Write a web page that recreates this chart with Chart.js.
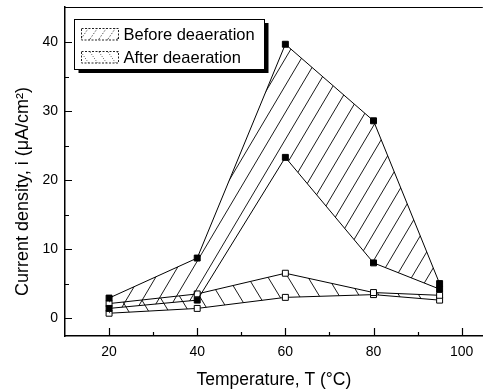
<!DOCTYPE html>
<html>
<head>
<meta charset="utf-8">
<script src="https://cdn.jsdelivr.net/npm/chart.js@4"></script>
<style>
  body { margin: 0; background: #fff; }
  canvas { display: block; }
</style>
</head>
<body>
<canvas id="myChart" width="488" height="392"></canvas>
<script>
// temperatures (x) and current densities (y, uA/cm2)
var temps = [20, 40, 60, 80, 95];
var beforeUpper = [2.9, 8.7, 39.7, 28.6, 5.0];
var beforeLower = [1.4, 2.6, 23.3, 8.0, 4.2];
var afterUpper = [2.1, 3.5, 6.5, 3.7, 3.3];
var afterLower = [0.7, 1.4, 3.0, 3.4, 2.6];
var seriesNames = ['Before deaeration', 'After deaeration'];

var xTickValues = [20, 40, 60, 80, 100];
var xMinorTicks = [30, 50, 70, 90];
var yTickValues = [0, 10, 20, 30, 40];
var yMinorTicks = [5, 15, 25, 35];

var FONT = "'Liberation Sans', Arial, sans-serif";
Chart.defaults.font.family = FONT;
Chart.defaults.color = '#000';

var ctx = document.getElementById('myChart').getContext('2d');

// diagonal hatch pattern, dir 1 = '/', -1 = '\'
function hatch(w, h, dir, lw, dash, color) {
    var c = document.createElement('canvas');
    c.width = w; c.height = h;
    var g = c.getContext('2d');
    g.strokeStyle = color || '#000';
    g.lineWidth = lw;
    if (dash) g.setLineDash(dash);
    g.beginPath();
    [-w, 0, w].forEach(function (ox) {
        if (dir > 0) { g.moveTo(ox, h); g.lineTo(ox + w, 0); }
        else { g.moveTo(ox, 0); g.lineTo(ox + w, h); }
    });
    g.stroke();
    return ctx.createPattern(c, 'repeat');
}

var beforeHatch = hatch(16, 27, 1, 0.9);
var afterHatch = hatch(20, 33, -1, 0.9);
var beforeSample = hatch(9, 13, 1, 0.8, [1.5, 1.5], '#333');
var afterSample = hatch(9, 13, -1, 0.8, [1, 1.5], '#333');

function toPoints(ys) {
    return temps.map(function (t, i) { return { x: t, y: ys[i] }; });
}

function series(ys, filled, fill, bg) {
    return {
        data: toPoints(ys),
        borderColor: '#000',
        borderWidth: 1,
        pointStyle: 'rect',
        pointRadius: 4.2,
        pointBorderWidth: 1,
        pointBorderColor: '#000',
        pointBackgroundColor: filled ? '#000' : '#fff',
        backgroundColor: bg || 'transparent',
        fill: fill,
        tension: 0
    };
}

// inward ticks, top frame and the boxed legend
var framePlugin = {
    id: 'frame',
    afterDraw: function (chart) {
        var c = chart.ctx, a = chart.chartArea;
        var x = chart.scales.x, y = chart.scales.y;
        c.save();
        c.strokeStyle = '#000';
        c.lineWidth = 1.2;
        c.beginPath();
        xTickValues.forEach(function (v) {
            var p = Math.round(x.getPixelForValue(v)) + 0.5;
            c.moveTo(p, a.bottom); c.lineTo(p, a.bottom - 8);
        });
        xMinorTicks.forEach(function (v) {
            var p = Math.round(x.getPixelForValue(v)) + 0.5;
            c.moveTo(p, a.bottom); c.lineTo(p, a.bottom - 4);
        });
        yTickValues.forEach(function (v) {
            var p = Math.round(y.getPixelForValue(v)) + 0.5;
            c.moveTo(a.left, p); c.lineTo(a.left + 7, p);
        });
        yMinorTicks.forEach(function (v) {
            var p = Math.round(y.getPixelForValue(v)) + 0.5;
            c.moveTo(a.left, p); c.lineTo(a.left + 4, p);
        });
        c.stroke();
        c.lineWidth = 1;
        c.beginPath();
        c.moveTo(a.left, a.top + 0.5); c.lineTo(a.right, a.top + 0.5);
        c.stroke();

        // legend box with drop shadow
        var lx = a.left + 9.5, ly = a.top + 12.5, lw = 190, lh = 50;
        c.fillStyle = '#000';
        c.fillRect(lx + 4, ly + 3.5, lw, lh);
        c.fillStyle = '#fff';
        c.fillRect(lx, ly, lw, lh);
        c.strokeRect(lx, ly, lw, lh);

        var samples = [beforeSample, afterSample];
        c.font = '16.5px ' + FONT;
        c.textBaseline = 'alphabetic';
        seriesNames.forEach(function (name, i) {
            var sy = ly + 9 + i * 23;
            c.fillStyle = samples[i];
            c.fillRect(lx + 7, sy, 37, 11.5);
            c.setLineDash([2, 1.5]);
            c.strokeStyle = '#222';
            c.strokeRect(lx + 7, sy, 37, 11.5);
            c.setLineDash([]);
            c.fillStyle = '#000';
            c.fillText(name, lx + 49, sy + 11.5);
        });
        c.restore();
    }
};

var chart = new Chart(ctx, {
    type: 'line',
    data: {
        datasets: [
            series(beforeUpper, true, '+1', beforeHatch),
            series(beforeLower, true, false),
            series(afterUpper, false, '+1', afterHatch),
            series(afterLower, false, false)
        ]
    },
    options: {
        responsive: false,
        animation: false,
        layout: { padding: { top: 7, left: 0, right: 0, bottom: 0 } },
        plugins: {
            legend: { display: false },
            tooltip: { enabled: false }
        },
        scales: {
            x: {
                type: 'linear',
                min: 10,
                max: 104.8,
                afterBuildTicks: function (s) {
                    s.ticks = xTickValues.map(function (v) { return { value: v }; });
                },
                afterFit: function (s) {
                    s.height = 56;
                    s.paddingLeft = 0; s.paddingRight = 0;
                },
                grid: { drawOnChartArea: false, drawTicks: false },
                border: { display: true, color: '#000', width: 1.5 },
                ticks: { padding: 8, font: { size: 14 }, color: '#000' },
                title: {
                    display: true,
                    text: 'Temperature, T (°C)',
                    font: { size: 17.5 },
                    color: '#000',
                    padding: { top: 0, bottom: 1.5 }
                }
            },
            y: {
                type: 'linear',
                min: -2.6,
                max: 45.1,
                afterBuildTicks: function (s) {
                    s.ticks = yTickValues.map(function (v) { return { value: v }; });
                },
                afterFit: function (s) {
                    s.width = 65;
                    s.paddingTop = 0; s.paddingBottom = 0;
                },
                grid: { drawOnChartArea: false, drawTicks: false },
                border: { display: true, color: '#000', width: 1.5 },
                ticks: { padding: 7, font: { size: 14 }, color: '#000' },
                title: {
                    display: true,
                    text: 'Current density, i (μA/cm²)\u00a0\u00a0\u00a0\u00a0\u00a0\u00a0\u00a0\u00a0',
                    font: { size: 18 },
                    color: '#000',
                    padding: { top: 12, bottom: 0 }
                }
            }
        }
    },
    plugins: [framePlugin]
});
</script>
</body>
</html>
